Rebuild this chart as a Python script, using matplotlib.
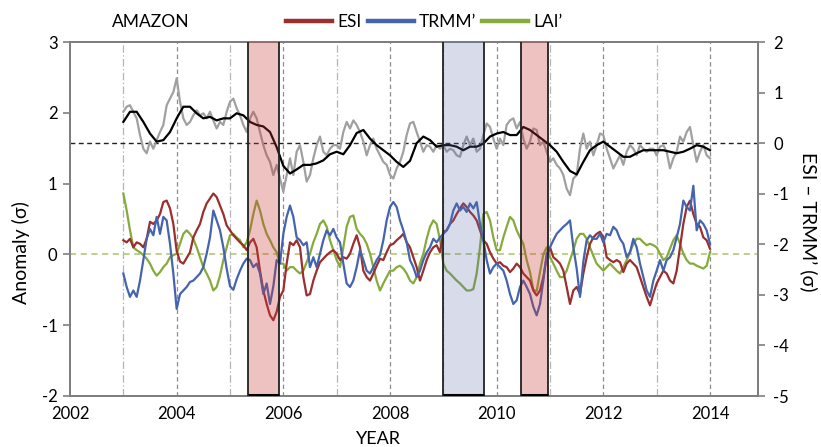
import numpy as np
import matplotlib
matplotlib.use("Agg")
import matplotlib.pyplot as plt
from matplotlib.patches import Rectangle

plt.rcParams['font.family'] = ['Lato', 'DejaVu Sans']
plt.rcParams['axes.unicode_minus'] = False

# ---------------- data ----------------
start_year = 2003.0
step_fine = 1 / 16.0     # sampling of the anomaly series
step_smooth = 1 / 8.0    # sampling of the smoothed ESI-TRMM' line

esi = [0.20, 0.17, 0.22, 0.10, 0.17, 0.15, 0.10, 0.22, 0.46, 0.43, 0.48, 0.57, 0.74, 0.76, 0.65, 0.43,
       0.05, -0.10, -0.13, -0.05, 0.03, 0.24, 0.34, 0.43, 0.60, 0.72, 0.79, 0.86, 0.81, 0.69, 0.57, 0.41,
       0.34, 0.27, 0.22, 0.17, 0.13, 0.06, 0.17, 0.22, 0.10, -0.23, -0.51, -0.70, -0.86, -0.93, -0.81, -0.60,
       -0.51, -0.13, 0.17, 0.13, 0.20, 0.10, -0.32, -0.58, -0.56, -0.37, -0.23, -0.11, -0.06, -0.01, 0.03, 0.06,
       0.01, -0.08, -0.04, -0.06, 0.01, 0.15, 0.27, 0.10, -0.23, -0.32, -0.37, -0.27, -0.16, -0.06, -0.08, 0.03,
       0.13, 0.15, 0.20, 0.24, 0.29, 0.17, 0.10, -0.04, -0.18, -0.37, -0.23, -0.08, 0.03, 0.10, 0.13, 0.03,
       0.32, 0.34, 0.43, 0.48, 0.57, 0.65, 0.72, 0.67, 0.60, 0.55, 0.48, 0.34, 0.20, 0.15, 0.03, -0.06,
       -0.13, -0.11, -0.16, -0.18, -0.25, -0.20, -0.13, -0.18, -0.27, -0.32, -0.37, -0.51, -0.58, -0.51, -0.32, -0.04,
       0.10, -0.04, -0.08, -0.13, -0.23, -0.46, -0.70, -0.51, -0.46, -0.56, -0.27, -0.04, 0.15, 0.24,
       0.29, 0.32, 0.24, -0.04, -0.08, -0.11, -0.08, -0.11, -0.25, -0.13, -0.08, -0.13, -0.18, -0.32, -0.46, -0.60,
       -0.72, -0.56, -0.41, -0.32, -0.23, -0.27, -0.37, -0.41, -0.23, 0.10, 0.43, 0.67, 0.76, 0.57, 0.43, 0.39,
       0.24, 0.20, 0.08]

trmm = [-0.27, -0.46, -0.60, -0.51, -0.60, -0.37, -0.08, 0.22, 0.36, 0.27, 0.53, 0.29, 0.53, 0.48, 0.15, -0.27,
        -0.77, -0.56, -0.51, -0.46, -0.39, -0.37, -0.32, -0.27, -0.18, 0.01, 0.24, 0.62, 0.48, 0.34, 0.10, -0.20,
        -0.45, -0.50, -0.35, -0.23, -0.13, -0.06, -0.08, -0.18, -0.13, -0.27, -0.56, -0.41, -0.70, -0.45, -0.08, -0.13,
        0.29, 0.53, 0.69, 0.53, 0.24, 0.20, 0.13, 0.17, -0.18, -0.04, -0.18, 0.01, 0.20, 0.34, 0.27, 0.36,
        0.24, 0.17, -0.13, -0.41, -0.46, -0.37, -0.18, 0.06, -0.08, -0.23, -0.27, -0.18, -0.08, -0.01, 0.20, 0.48,
        0.67, 0.74, 0.67, 0.48, 0.34, 0.17, -0.08, -0.18, -0.32, -0.23, -0.08, 0.03, 0.10, 0.22, 0.17, 0.24,
        0.29, 0.34, 0.43, 0.62, 0.72, 0.62, 0.67, 0.60, 0.72, 0.65, 0.74, 0.43, 0.20, -0.08, -0.27, -0.18,
        -0.13, -0.18, -0.23, -0.37, -0.56, -0.70, -0.65, -0.46, -0.37, -0.46, -0.56, -0.74, -0.86, -0.70, -0.37, 0.01,
        0.10, 0.20, 0.29, 0.34, 0.39, 0.43, 0.48, 0.10, -0.20, -0.60, -0.10, 0.20, 0.27, 0.22,
        0.22, 0.29, 0.17, 0.29, 0.27, 0.39, 0.34, 0.22, 0.15, -0.04, 0.03, 0.22, 0.10, -0.13, -0.32, -0.51,
        -0.60, -0.37, -0.23, -0.08, -0.23, -0.08, -0.04, 0.06, 0.24, 0.43, 0.76, 0.67, 0.62, 0.97, 0.34, 0.48,
        0.43, 0.34, 0.15]

lai = [0.86, 0.62, 0.34, 0.10, 0.06, 0.03, -0.01, -0.06, -0.13, -0.23, -0.30, -0.25, -0.18, -0.13, -0.04, -0.01,
       0.01, 0.15, 0.29, 0.34, 0.29, 0.22, 0.10, -0.04, -0.18, -0.27, -0.37, -0.51, -0.46, -0.30, -0.08, 0.10,
       0.27, 0.29, 0.24, 0.20, 0.10, 0.17, 0.34, 0.57, 0.76, 0.62, 0.43, 0.29, 0.20, 0.10, 0.03, -0.13,
       -0.13, -0.23, -0.18, -0.18, -0.23, -0.27, -0.23, -0.11, 0.01, 0.17, 0.29, 0.43, 0.48, 0.39, 0.20, 0.06,
       -0.08, -0.18, 0.10, 0.39, 0.53, 0.55, 0.36, 0.29, 0.24, 0.15, 0.01, -0.18, -0.37, -0.51, -0.41, -0.32,
       -0.23, -0.23, -0.18, -0.16, -0.20, -0.27, -0.37, -0.41, -0.32, -0.13, 0.01, 0.22, 0.39, 0.48, 0.43, 0.20,
       -0.13, -0.23, -0.27, -0.32, -0.37, -0.41, -0.46, -0.51, -0.51, -0.49, -0.27, 0.10, 0.57, 0.60, 0.48, 0.24,
       0.06, 0.06, 0.24, 0.39, 0.53, 0.48, 0.34, 0.24, 0.15, -0.08, -0.25, -0.50, -0.52, -0.25, 0.00, 0.10,
       -0.04, -0.13, -0.23, -0.32, -0.32, -0.23, -0.08, 0.06, 0.22, 0.29, 0.29, 0.22, 0.10, -0.02,
       -0.13, -0.18, -0.23, -0.18, -0.13, -0.18, -0.23, -0.27, -0.18, -0.08, 0.03, 0.15, 0.22, 0.22, 0.17, 0.13,
       0.15, 0.13, 0.10, 0.01, -0.08, -0.04, 0.08, 0.20, 0.27, 0.15, 0.01, -0.08, -0.13, -0.13, -0.16, -0.18,
       -0.20, -0.16, 0.03]

esi_minus_trmm = [0.62, 0.72, 0.75, 0.62, 0.49, 0.16, -0.11, -0.20, 0.03, -0.11,
                  0.06, 0.22, 0.36, 0.75, 0.88, 1.01, 1.28, 0.82, 0.49, 0.36,
                  0.42, 0.55, 0.65, 0.55, 0.59, 0.49, 0.62, 0.45, 0.29, 0.42,
                  0.36, 0.62, 0.82, 0.88, 0.69, 0.55, 0.36, 0.22, 0.49, 0.62,
                  0.49, 0.22, -0.04, -0.24, -0.37, -0.63, -0.43, -0.70, -0.96, -0.63,
                  -0.30, -0.63, -0.17, -0.04, -0.37, -0.76, -0.63, -0.30, -0.04, 0.13,
                  -0.17, -0.24, -0.11, -0.04, -0.04, -0.11, 0.22, 0.42, 0.29, 0.45,
                  0.36, 0.22, 0.03, -0.24, -0.04, 0.09, -0.11, -0.24, -0.37, -0.43,
                  -0.63, -0.70, -0.50, -0.37, -0.17, 0.16, 0.39, 0.42, 0.22,
                  0.03, -0.17, -0.04, -0.07, -0.17, -0.04, -0.11, -0.04,
                  -0.17, -0.11, -0.14, -0.24, -0.27, -0.04, 0.13, -0.04, 0.09, -0.17,
                  -0.11, 0.16, 0.39, 0.32, 0.09, -0.11, 0.09, -0.04, 0.36, 0.45,
                  0.49, 0.29, 0.42, 0.09, -0.11, 0.03, 0.29, 0.26, -0.04, 0.03,
                  -0.17, -0.37, -0.30, -0.43, -0.50, -0.63, -0.90, -1.03, -0.70, -0.63,
                  -0.11, 0.19, -0.11, 0.03, -0.24, -0.04, 0.19, 0.16, -0.11, -0.30,
                  -0.50, -0.37, -0.24, -0.43, -0.17, -0.04, -0.11, -0.24, -0.04, -0.11,
                  -0.17, -0.11, -0.11, -0.24, -0.07, -0.04, -0.17, -0.50, -0.30, -0.17,
                  0.13, 0.03, 0.22, 0.32, -0.04, -0.37, -0.17, -0.04, -0.24, -0.30]

esi_minus_trmm_smooth = [0.42, 0.62, 0.62, 0.42, 0.19, 0.03, 0.06, 0.22,
                         0.49, 0.72, 0.72, 0.59, 0.49, 0.52, 0.45, 0.49,
                         0.49, 0.59, 0.55, 0.42, 0.36, 0.33, 0.22, -0.08,
                         -0.45, -0.60, -0.52, -0.43, -0.43, -0.40, -0.34, -0.22,
                         -0.17, -0.22, -0.04, 0.20, 0.26, 0.09, -0.04, -0.14,
                         -0.24, -0.37, -0.47, -0.35, 0.00, 0.13, 0.06, -0.07,
                         -0.04, -0.04, -0.07, -0.14, -0.07, -0.07, -0.01, 0.13,
                         0.19, 0.22, 0.16, 0.16, 0.32, 0.26, 0.16, 0.06,
                         -0.04, -0.17, -0.37, -0.55, -0.62, -0.37, -0.14, -0.04,
                         0.03, -0.07, -0.17, -0.27, -0.27, -0.20, -0.14, -0.14,
                         -0.14, -0.14, -0.17, -0.20, -0.17, -0.11, -0.04, -0.07,
                         -0.14]

# event periods (start, end, kind)
event_start = [2005.33, 2009.0, 2010.45]
event_end = [2005.92, 2009.77, 2010.97]
event_kind = ['drought', 'wet', 'drought']

year_ticks = [2002, 2004, 2006, 2008, 2010, 2012, 2014]
grid_years = list(range(2003, 2015))
left_ticks = [-2, -1, 0, 1, 2, 3]
right_ticks = [-5, -4, -3, -2, -1, 0, 1, 2]

# ---------------- plotting ----------------
t_fine = start_year + step_fine * np.arange(len(esi))
t_smooth = start_year + step_smooth * np.arange(len(esi_minus_trmm_smooth))

C_ESI = '#9A2F2E'
C_TRMM = '#4564AE'
C_LAI = '#86AA3C'
C_SPINE = '#7F7F7F'

fig = plt.figure(figsize=(8.21, 4.47), dpi=100)
ax = fig.add_axes([70 / 821, 1 - 396 / 447, (758 - 70) / 821, (396 - 42) / 447])
ax2 = ax.twinx()

ax.set_xlim(2002, 2014.9)
ax.set_ylim(-2, 3)
ax2.set_ylim(-5, 2)

# vertical year grid
for yr in grid_years:
    if yr % 2 == 0:
        ax.axvline(yr, color='#8C8C8C', lw=0.9, ls=(0, (3.5, 2.5)), zorder=0.5)
    else:
        ax.axvline(yr, color='#B5B5B5', lw=0.9, ls=(0, (6, 2, 1, 2)), zorder=0.5)

# zero lines
ax.axhline(0, color='#A9C46A', lw=1.1, ls=(0, (4, 3)), zorder=1)
ax2.axhline(0, color='#222222', lw=1.0, ls=(0, (3.5, 2.5)), zorder=1)

l1, = ax.plot(t_fine, esi, color=C_ESI, lw=1.6, zorder=3, label='ESI')
l2, = ax.plot(t_fine, trmm, color=C_TRMM, lw=1.6, zorder=3, label='TRMM\u2019')
l3, = ax.plot(t_fine, lai, color=C_LAI, lw=1.6, zorder=2.5, label='LAI\u2019')

ax2.plot(t_fine, esi_minus_trmm, color='#A0A0A0', lw=1.6, zorder=2)
ax2.plot(t_smooth, esi_minus_trmm_smooth, color='black', lw=1.6, zorder=3)

# shaded event boxes on top of the lines
for s, e, kind in zip(event_start, event_end, event_kind):
    fc = (0.80, 0.22, 0.22, 0.30) if kind == 'drought' else (0.35, 0.42, 0.66, 0.24)
    rect = Rectangle((s, 0), e - s, 1, transform=ax2.get_xaxis_transform(),
                     facecolor=fc, edgecolor='none', zorder=5)
    ax2.add_patch(rect)
    for xx in (s, e):
        ax2.axvline(xx, color='#222222', lw=1.3, zorder=6)
    ax2.plot([s, e], [0.002, 0.002], transform=ax2.get_xaxis_transform(),
             color='black', lw=2.2, zorder=6, solid_capstyle='butt')

# axes styling
for a in (ax, ax2):
    for sp in a.spines.values():
        sp.set_color(C_SPINE)
        sp.set_linewidth(1.4)

ax.set_xticks(year_ticks)
ax.set_xticklabels([str(y) for y in year_ticks])
ax.set_yticks(left_ticks)
ax.set_yticklabels([str(v) for v in left_ticks])
ax2.set_yticks(right_ticks)
ax2.set_yticklabels([str(v) for v in right_ticks])

ax.tick_params(axis='x', length=0, pad=7, labelsize=12, colors='black')
ax.tick_params(axis='y', length=5, width=1.2, color=C_SPINE, pad=4, labelsize=12)
ax2.tick_params(axis='y', length=5, width=1.2, color=C_SPINE, pad=6, labelsize=12)

# labels
fig.text(21 / 821, 1 - 253 / 447, 'Anomaly (\u03c3)', rotation=90, ha='center', va='center', fontsize=14)
fig.text(809 / 821, 1 - 222 / 447, 'ESI \u2013 TRMM\u2019 (\u03c3)', rotation=270, ha='center', va='center', fontsize=14)
fig.text(378 / 821, 1 - 439 / 447, 'YEAR', ha='center', va='center', fontsize=13)
fig.text(151 / 821, 1 - 22 / 447, 'AMAZON', ha='center', va='center', fontsize=12.5)

leg = fig.legend(handles=[l1, l2, l3], loc='center left', bbox_to_anchor=(286 / 821, 1 - 22 / 447),
                 ncol=3, frameon=False, fontsize=12.5, handlelength=2.65, handletextpad=0.3,
                 columnspacing=0.35, borderaxespad=0, borderpad=0)
for h in leg.legend_handles:
    h.set_linewidth(3.2)

fig.savefig('out.png', dpi=100)
